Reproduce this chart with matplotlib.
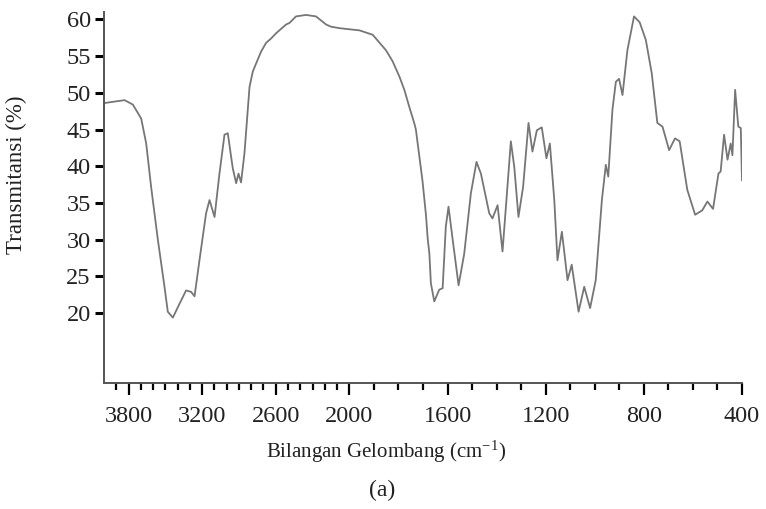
import numpy as np
import matplotlib
matplotlib.use("Agg")
import matplotlib.pyplot as plt
from matplotlib.ticker import FixedLocator

plt.rcParams['font.family'] = ['Liberation Serif', 'DejaVu Serif']
plt.rcParams['mathtext.fontset'] = 'stix'

# FTIR spectrum: wavenumber (cm-1) and transmittance (%)
wavenumber = [4000, 3832, 3765, 3697, 3656, 3616, 3561, 3507, 3480, 3439,
              3384, 3331, 3290, 3262, 3222, 3168, 3140, 3099, 3059, 3018,
              2991, 2964, 2950, 2923, 2904, 2883, 2855, 2814, 2787, 2760,
              2720, 2679, 2638, 2598, 2516, 2489, 2435, 2353, 2272, 2190,
              2150, 2081, 2028, 1959, 1905, 1851, 1824, 1796, 1776, 1756,
              1735, 1729, 1702, 1688, 1681, 1674, 1668, 1654, 1634, 1620,
              1607, 1596, 1579, 1555, 1532, 1505, 1482, 1464, 1430, 1417,
              1396, 1376, 1360, 1342, 1328, 1311, 1292, 1270, 1254, 1236,
              1216, 1197, 1183, 1165, 1152, 1134, 1111, 1094, 1066, 1043,
              1019, 996, 971, 955, 945, 928, 914, 901, 887, 867,
              840, 817, 792, 768, 745, 724, 697, 673, 654, 623,
              591, 562, 541, 518, 496, 487, 473, 459, 446, 439,
              428, 415, 405, 400]
transmittance = [48.6, 49.0, 48.4, 46.5, 43.1, 37.2, 30.0, 23.6, 20.2, 19.4,
                 21.3, 23.1, 22.9, 22.3, 27.2, 33.6, 35.4, 33.1, 39.0, 44.3,
                 44.5, 41.3, 39.7, 37.7, 39.0, 37.8, 41.8, 50.8, 52.9, 54.0,
                 55.6, 56.8, 57.4, 58.1, 59.3, 59.5, 60.4, 60.6, 60.4, 59.3,
                 59.0, 58.8, 58.7, 58.5, 57.9, 55.8, 54.3, 52.2, 50.4, 48.1,
                 45.8, 45.0, 38.0, 33.4, 30.2, 28.1, 24.1, 21.6, 23.2, 23.4,
                 31.8, 34.5, 30.0, 23.8, 28.1, 36.3, 40.6, 39.0, 33.6, 32.9,
                 34.7, 28.4, 35.4, 43.4, 39.9, 33.1, 37.2, 45.9, 42.0, 44.9,
                 45.3, 41.1, 43.1, 35.4, 27.2, 31.1, 24.5, 26.6, 20.2, 23.6,
                 20.7, 24.5, 35.4, 40.2, 38.6, 47.7, 51.5, 51.9, 49.7, 55.8,
                 60.4, 59.6, 57.2, 52.7, 45.9, 45.4, 42.2, 43.8, 43.4, 36.8,
                 33.4, 34.0, 35.2, 34.2, 39.0, 39.3, 44.3, 40.9, 43.1, 41.5,
                 50.4, 45.4, 45.2, 38.1]

major_ticks = [3800, 3200, 2600, 2000, 1600, 1200, 800, 400]
y_ticks = [20, 25, 30, 35, 40, 45, 50, 55, 60]


# Wavenumbers above 2000 cm-1 are drawn at half scale
def fwd(x):
    x = np.asarray(x, dtype=float)
    return np.where(x <= 2000, x, 2000 + (x - 2000) / 2.0)


def inv(y):
    y = np.asarray(y, dtype=float)
    return np.where(y <= 2000, y, 2000 + 2.0 * (y - 2000))


fig = plt.figure(figsize=(7.66, 5.09), dpi=100)
ax = fig.add_axes([104 / 766, 1 - 383 / 509, (742 - 104) / 766, (383 - 12) / 509])

ax.plot(wavenumber, transmittance, color='#767676', lw=1.3,
        solid_joinstyle='round')

ax.set_xscale('function', functions=(fwd, inv))
ax.set_xlim(4000, 400)
ax.set_ylim(10.5, 61)

ax.xaxis.set_major_locator(FixedLocator(major_ticks))
minor = [v for v in range(3900, 400, -100) if v not in major_ticks]
ax.xaxis.set_minor_locator(FixedLocator(minor))
ax.set_xticklabels([str(v) for v in major_ticks])
ax.set_yticks(y_ticks)

for s in ('top', 'right'):
    ax.spines[s].set_visible(False)
for s in ('left', 'bottom'):
    ax.spines[s].set_color('#555555')
    ax.spines[s].set_linewidth(1.4)

ax.tick_params(axis='y', which='major', direction='out', length=6.5, width=2.2,
               color='black', labelsize=17.5, pad=3, labelcolor='#222222')
ax.tick_params(axis='x', which='major', direction='out', length=8.5, width=1.6,
               color='black', labelsize=17.5, pad=8, labelcolor='#222222')
ax.tick_params(axis='x', which='minor', direction='out', length=5, width=1.6,
               color='black')

fig.text(386 / 766, 1 - 452 / 509, r'Bilangan Gelombang (cm$^{\mathregular{-1}}$)',
         ha='center', va='center', fontsize=15, color='#222222')
fig.text(16 / 766, 1 - 175 / 509, 'Transmitansi (%)', rotation=90,
         ha='center', va='center', fontsize=16.5, color='#222222')
fig.text(382 / 766, 1 - 490 / 509, '(a)', ha='center', va='center',
         fontsize=17, color='#222222')

fig.savefig('out.png', dpi=100)
